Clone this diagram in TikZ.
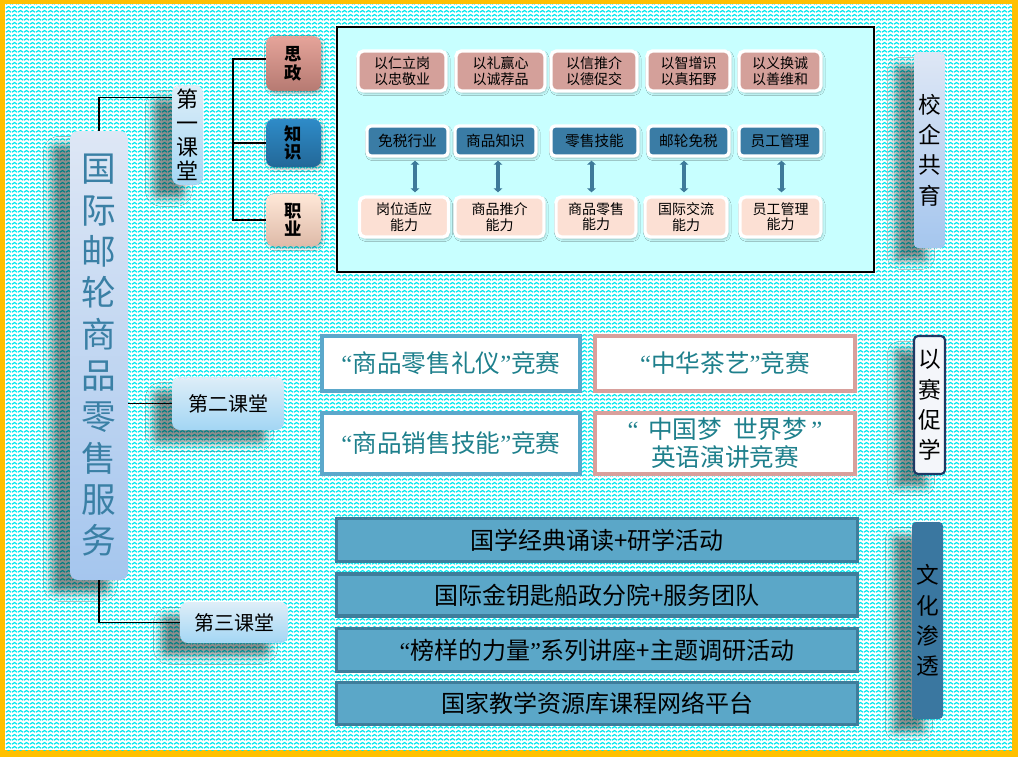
\documentclass[tikz,border=0pt]{standalone}
\usepackage{fontspec}
\setmainfont{Noto Sans CJK SC}
\newfontfamily\latq{Liberation Serif}
\newcommand\myLQ{{\latq “}}
\newcommand\myRQ{{\latq ”}}
\usetikzlibrary{shadows,shadows.blur,arrows.meta,patterns}
\definecolor{frameor}{RGB}{255,192,0}
\definecolor{zz}{RGB}{0,232,238}
\definecolor{innercyan}{RGB}{200,255,255}
\definecolor{titleblue}{RGB}{58,128,165}
\definecolor{rose}{RGB}{212,160,154}
\definecolor{peach}{RGB}{252,224,212}
\definecolor{steel}{RGB}{58,124,165}
\definecolor{arrowc}{RGB}{62,122,154}
\definecolor{barfill}{RGB}{91,167,200}
\definecolor{barline}{RGB}{62,125,155}
\definecolor{compblue}{RGB}{91,168,203}
\definecolor{comppink}{RGB}{216,160,156}
\definecolor{comptext}{RGB}{30,128,140}
\definecolor{navy}{RGB}{31,56,100}
\definecolor{culture}{RGB}{58,119,160}
\pgfdeclarepatternformonly{zigzag}{\pgfqpoint{0pt}{0pt}}{\pgfqpoint{4.5pt}{3pt}}{\pgfqpoint{4.5pt}{3pt}}{%
  \pgfsetlinewidth{1.05pt}%
  \pgfpathmoveto{\pgfqpoint{0pt}{0.7pt}}%
  \pgfpathlineto{\pgfqpoint{2.25pt}{2.3pt}}%
  \pgfpathlineto{\pgfqpoint{4.5pt}{0.7pt}}%
  \pgfusepath{stroke}}
\tikzset{
  sz/.style 2 args={minimum width=#1*0.75pt, minimum height=#2*0.75pt, inner sep=0pt},
  bigshadow/.style={blur shadow={shadow xshift=-14pt, shadow yshift=-10pt, shadow blur radius=6pt, shadow opacity=45}},
  smallshadow/.style={blur shadow={shadow xshift=1pt, shadow yshift=-1.5pt, shadow blur radius=2pt, shadow opacity=30}},
  titlebox/.style={rounded corners=6pt, top color={rgb,255:red,222;green,231;blue,245}, bottom color={rgb,255:red,165;green,198;blue,238}, bigshadow, align=center},
  classbox/.style={rounded corners=6pt, top color={rgb,255:red,222;green,238;blue,248}, bottom color={rgb,255:red,163;green,214;blue,244}, bigshadow, align=center},
  catbox/.style={rounded corners=6pt, smallshadow, align=center, font=\fontsize{13pt}{14pt}\selectfont\bfseries},
  toprow/.style={draw=white, line width=2.5pt, fill=rose, rounded corners=4pt, smallshadow, align=center, font=\fontsize{10.5pt}{12pt}\selectfont},
  midrow/.style={draw=white, line width=2.5pt, fill=steel, rounded corners=3pt, smallshadow, align=center, font=\fontsize{11pt}{12pt}\selectfont},
  botrow/.style={draw=white, line width=2.5pt, fill=peach, rounded corners=4pt, smallshadow, align=center, font=\fontsize{10.5pt}{11.5pt}\selectfont},
  dbl/.style={line width=3pt, arrowc, {Triangle[length=3pt,width=6.5pt]}-{Triangle[length=3pt,width=6.5pt]}, shorten <=2.25pt, shorten >=2.25pt},
  compb/.style={draw=compblue, line width=2.3pt, fill=white, align=center, text=comptext, font=\fontsize{18.5pt}{20pt}\selectfont},
  compp/.style={draw=comppink, line width=2.3pt, fill=white, align=center, text=comptext, font=\fontsize{18.5pt}{20pt}\selectfont},
  bar/.style={draw=barline, line width=2.3pt, fill=barfill, align=center, font=\fontsize{18pt}{20pt}\selectfont},
  sidelabel/.style={rounded corners=3pt, bigshadow, align=center, font=\fontsize{17pt}{22.7pt}\selectfont},
  conn/.style={draw=black, line width=0.8pt}
}
\begin{document}
\begin{tikzpicture}[x=0.75pt,y=-0.75pt]
\useasboundingbox (0,0) rectangle (1018,757);
% background and frame
\fill[frameor] (0,0) rectangle (1018,757);
\fill[white] (5,4) rectangle (1012,750);
\fill[pattern=zigzag, pattern color=zz] (5,4) rectangle (1012,750);

% main title
\node[titlebox, sz={58}{449}, text=titleblue, font=\fontsize{26pt}{31pt}\selectfont] (main) at (99,355.5)
  {国\\际\\邮\\轮\\商\\品\\零\\售\\服\\务};

% classes
\node[classbox, sz={31}{100}, font=\fontsize{16.5pt}{18pt}\selectfont] (c1) at (187.5,135) {第\\一\\课\\堂};
\node[classbox, sz={112}{53}, font=\fontsize{15pt}{17pt}\selectfont] (c2) at (228,403.5) {第二课堂};
\node[classbox, sz={108}{41}, font=\fontsize{15pt}{17pt}\selectfont] (c3) at (234,622.5) {第三课堂};

\draw[conn] (main.north) |- ([yshift=-9.75pt]c1.north west);
\draw[conn] (main.east |- c2.west) -- (c2.west);
\draw[conn] (main.south) |- (c3.west);

% categories
\node[catbox, sz={55}{55}, top color={rgb,255:red,229;green,164;blue,154}, bottom color={rgb,255:red,182;green,122;blue,114}] (sz) at (293.5,63.5) {思\\政};
\node[catbox, sz={55}{48}, top color={rgb,255:red,46;green,139;blue,200}, bottom color={rgb,255:red,35;green,104;blue,152}] (zs) at (293.5,143) {知\\识};
\node[catbox, sz={55}{52}, top color={rgb,255:red,255;green,232;blue,216}, bottom color={rgb,255:red,222;green,186;blue,168}] (zy) at (293.5,220) {职\\业};
\coordinate (br) at (233,0);
\draw[conn] ([yshift=3.4pt]sz.west) -- ([yshift=3.4pt]sz.west -| br) -- (zy.west -| br) -- (zy.west);
\draw[conn] (zs.west -| br) -- (zs.west);

% inner box
\node[draw=black, line width=0.8pt, fill=innercyan, sz={537}{245}] (inner) at (605.5,149.5) {};

\node[toprow, sz={88}{40}] (t1) at (402,71) {以仁立岗\\以忠敬业};
\node[toprow, sz={89}{40}] (t2) at (500.5,71) {以礼赢心\\以诚荐品};
\node[toprow, sz={86}{40}] (t3) at (594,71) {以信推介\\以德促交};
\node[toprow, sz={83}{40}] (t4) at (688.5,71) {以智增识\\以真拓野};
\node[toprow, sz={82}{40}] (t5) at (780,71) {以义换诚\\以善维和};

\node[midrow, sz={81}{30}] (m1) at (407.5,141) {免税行业};
\node[midrow, sz={81}{30}] (m2) at (495.5,141) {商品知识};
\node[midrow, sz={87}{30}] (m3) at (594.5,141) {零售技能};
\node[midrow, sz={81}{30}] (m4) at (688.5,141) {邮轮免税};
\node[midrow, sz={82}{30}] (m5) at (780,141) {员工管理};

\node[botrow, sz={89}{40}] (b1) at (404,217) {岗位适应\\能力};
\node[botrow, sz={89}{40}] (b2) at (499.5,217) {商品推介\\能力};
\node[botrow, sz={80}{40}] (b3) at (596,217) {商品零售\\能力};
\node[botrow, sz={82}{40}] (b4) at (686,217) {国际交流\\能力};
\node[botrow, sz={81}{40}] (b5) at (780.5,217) {员工管理\\能力};

\draw[dbl] (m1.south -| 415,0) -- (b1.north -| 415,0);
\draw[dbl] (m2.south -| 498,0) -- (b2.north -| 498,0);
\draw[dbl] (m3.south -| 591.5,0) -- (b3.north -| 591.5,0);
\draw[dbl] (m4.south -| 684,0) -- (b4.north -| 684,0);
\draw[dbl] (m5.south -| 781.5,0) -- (b5.north -| 781.5,0);

% competitions
\node[compb, sz={258}{55}] (k1) at (451,363.5) {\myLQ 商品零售礼仪\myRQ 竞赛};
\node[compb, sz={258}{61}] (k2) at (451,443.5) {\myLQ 商品销售技能\myRQ 竞赛};
\node[compp, sz={260}{55}] (k3) at (725,363.5) {\myLQ 中华茶艺\myRQ 竞赛};
\node[compp, sz={260}{61}, font=\fontsize{18.5pt}{21pt}\selectfont] (k4) at (725,443.5) {\myLQ\, 中国梦\ \ 世界梦\,\myRQ\\英语演讲竞赛};

% culture bars
\node[bar, sz={521}{43}] (r1) at (597,540) {国学经典诵读+研学活动};
\node[bar, sz={521}{42}] (r2) at (597,595) {国际金钥匙船政分院+服务团队};
\node[bar, sz={521}{43}] (r3) at (597,650) {\myLQ 榜样的力量\myRQ 系列讲座+主题调研活动};
\node[bar, sz={521}{42}] (r4) at (597,703.5) {国家教学资源库课程网络平台};

% side labels
\node[sidelabel, sz={31}{196}, top color={rgb,255:red,222;green,231;blue,245}, bottom color={rgb,255:red,165;green,198;blue,238}] (s1) at (929.5,150) {校\\企\\共\\育};
\node[sidelabel, sz={31}{138}, draw=navy, line width=1.6pt, fill={rgb,255:red,244;green,246;blue,250}] (s2) at (929.5,405) {以\\赛\\促\\学};
\node[sidelabel, sz={31}{197}, fill=culture] (s3) at (927.5,620.5) {文\\化\\渗\\透};
\end{tikzpicture}
\end{document}
